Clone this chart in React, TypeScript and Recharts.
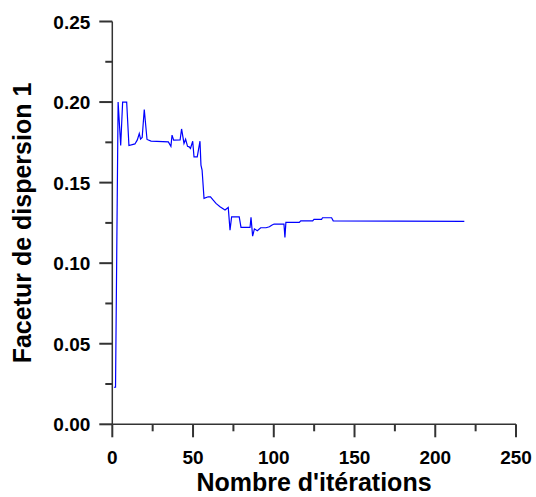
import React from 'react';
import { LineChart, Line, XAxis, YAxis } from 'recharts';

// values
const iterations = [
  1, 2, 3.6, 5.2, 6.4, 8.9, 10.3, 14, 15.5, 16.7, 17.5, 18.5, 19.8, 21.5, 24,
  34.7, 36.3, 37, 38, 42, 42.9, 44.4, 45.4, 46.6, 47.6, 48.4, 49.8, 50.6, 52.6,
  54.3, 54.9, 55.6, 56.8, 59.4, 60.8, 62.5, 64.2, 66.7, 69.8, 71.8, 72.9, 73.9,
  78.6, 79.7, 85.3, 85.9, 86.9, 88, 89.8, 91.9, 95.2, 97.3, 98.7, 100.2, 106.3,
  106.9, 107.5, 115.8, 116.7, 124.1, 124.9, 129.6, 130.2, 135.8, 136.8, 218,
];
const dispersion = [
  0.023, 0.023, 0.2, 0.173, 0.2, 0.2, 0.173, 0.174, 0.1765, 0.1805, 0.177, 0.178,
  0.1954, 0.1768, 0.1758, 0.1753, 0.1725, 0.1795, 0.1764, 0.1765, 0.1833, 0.1743,
  0.1769, 0.1725, 0.1722, 0.1712, 0.1757, 0.166, 0.166, 0.1757, 0.1609, 0.1578,
  0.1402, 0.1412, 0.1412, 0.1391, 0.1371, 0.135, 0.133, 0.1346, 0.1205, 0.1288,
  0.1288, 0.1222, 0.1222, 0.1284, 0.1168, 0.1213, 0.1201, 0.122, 0.122, 0.1226,
  0.1236, 0.1243, 0.1243, 0.116, 0.1253, 0.1253, 0.1263, 0.1263, 0.1272, 0.1272,
  0.1282, 0.1282, 0.1263, 0.126,
];

const xTicks = [0, 25, 50, 75, 100, 125, 150, 175, 200, 225, 250];
const yTicks = [0, 0.025, 0.05, 0.075, 0.1, 0.125, 0.15, 0.175, 0.2, 0.225, 0.25];

const data = iterations.map((it, i) => ({ it, v: dispersion[i] }));

const FONT = '"Liberation Sans", Arial, sans-serif';
const AXIS = '#333333';

function XTick(props: any) {
  const x = Number(props.x);
  const y = Number(props.y);
  const value = props.payload.value;
  const major = value % 50 === 0;
  return (
    <g>
      <path d={`M${x},${y}L${x},${y + (major ? 13 : 7)}`} stroke={AXIS} strokeWidth={2} fill="none" />
      {major && (
        <text x={x} y={y + 40} textAnchor="middle" fontFamily={FONT} fontWeight="bold" fontSize={19} fill="#000">
          {value}
        </text>
      )}
    </g>
  );
}

function YTick(props: any) {
  const x = Number(props.x);
  const y = Number(props.y);
  const value = props.payload.value;
  const major = Math.round(value * 1000) % 50 === 0;
  return (
    <g>
      <path d={`M${x - (major ? 13 : 7)},${y}L${x},${y}`} stroke={AXIS} strokeWidth={2} fill="none" />
      {major && (
        <text x={x - 22} y={y + 7} textAnchor="end" fontFamily={FONT} fontWeight="bold" fontSize={19} fill="#000">
          {value.toFixed(2)}
        </text>
      )}
    </g>
  );
}

export default function App() {
  return (
    <div style={{ position: 'absolute', left: 0, top: 0, width: 536, height: 497 }}>
      <LineChart
        width={536}
        height={497}
        data={data}
        margin={{ top: 21.5, right: 20, left: 0, bottom: 0 }}
      >
        <XAxis
          dataKey="it"
          type="number"
          domain={[0, 250]}
          ticks={xTicks}
          interval={0}
          tickSize={0}
          tickMargin={0}
          tick={<XTick />}
          height={72.7}
          axisLine={{ stroke: AXIS, strokeWidth: 1.5 }}
        />
        <YAxis
          type="number"
          domain={[0, 0.25]}
          ticks={yTicks}
          interval={0}
          tickSize={0}
          tickMargin={0}
          tick={<YTick />}
          width={112.3}
          axisLine={{ stroke: AXIS, strokeWidth: 1.5 }}
        />
        <Line
          type="linear"
          dataKey="v"
          stroke="#0000ff"
          strokeWidth={1.2}
          dot={false}
          isAnimationActive={false}
        />
      </LineChart>
      {/* axis titles */}
      <svg
        width={536}
        height={497}
        style={{ position: 'absolute', left: 0, top: 0, pointerEvents: 'none' }}
      >
        <text x={314} y={490.5} textAnchor="middle" fontFamily={FONT} fontWeight="bold" fontSize={25} fill="#000">
          Nombre d'itérations
        </text>
        <text
          x={30.5}
          y={223}
          transform="rotate(-90, 30.5, 223)"
          textAnchor="middle"
          fontFamily={FONT}
          fontWeight="bold"
          fontSize={25}
          fill="#000"
        >
          Facetur de dispersion 1
        </text>
      </svg>
    </div>
  );
}
